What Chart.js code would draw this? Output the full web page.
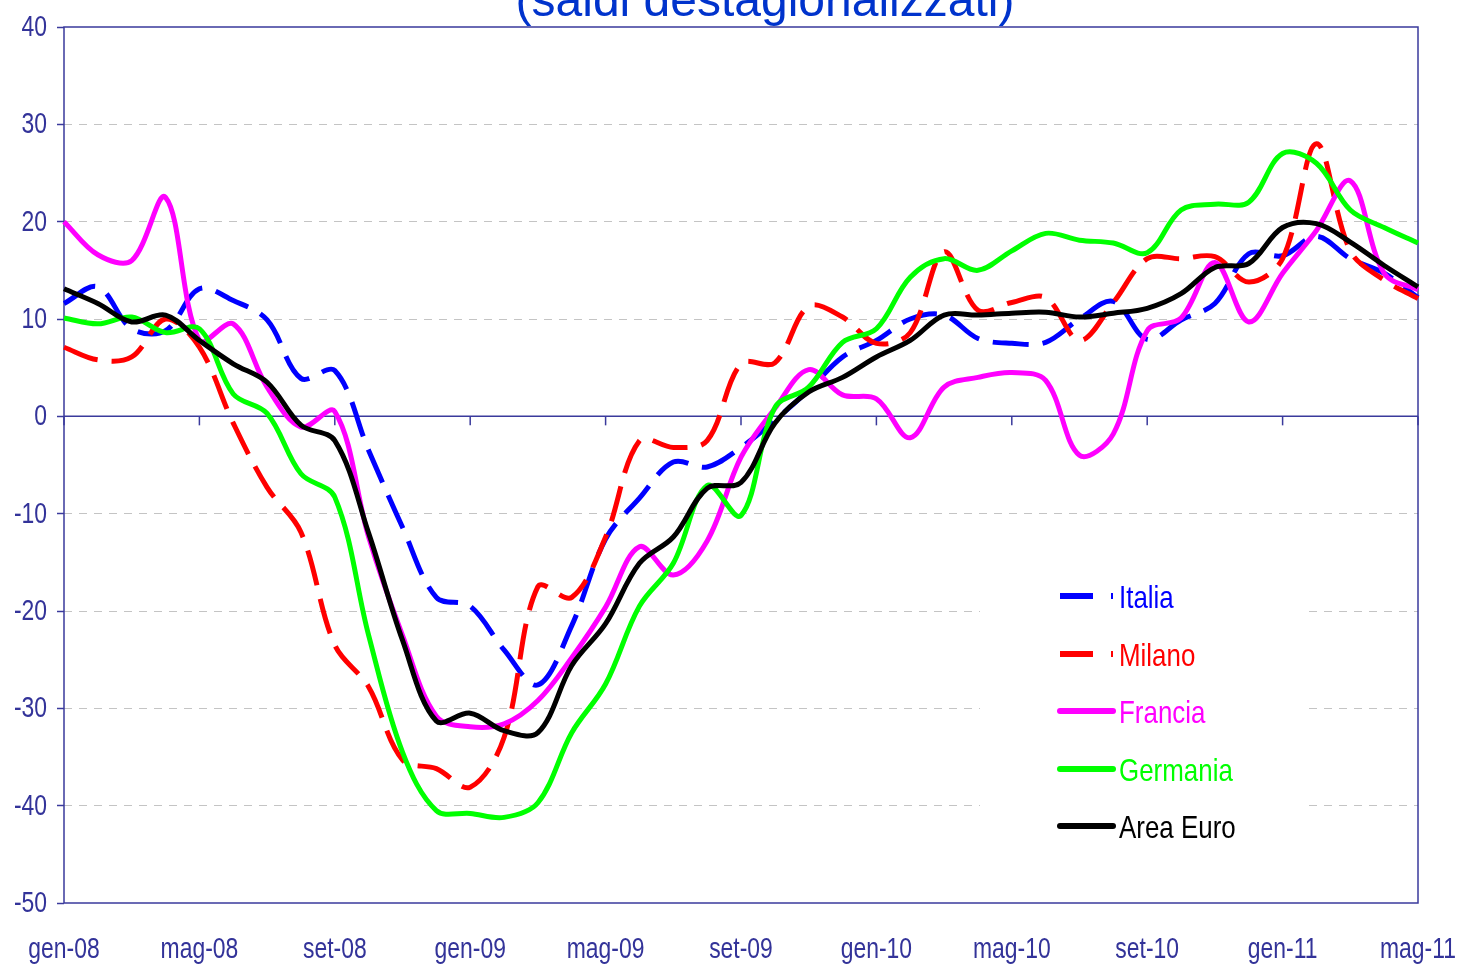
<!DOCTYPE html>
<html>
<head>
<meta charset="utf-8">
<script src="https://cdn.jsdelivr.net/npm/chart.js@4.4.1/dist/chart.umd.min.js"></script>
<style>
  html, body { margin: 0; padding: 0; background: #ffffff; overflow: hidden; }
  #c { display: block; }
</style>
</head>
<body>
<canvas id="c" width="1462" height="965"></canvas>
<script>
const categories = [
  'gen-08','feb-08','mar-08','apr-08','mag-08','giu-08','lug-08','ago-08','set-08','ott-08','nov-08','dic-08',
  'gen-09','feb-09','mar-09','apr-09','mag-09','giu-09','lug-09','ago-09','set-09','ott-09','nov-09','dic-09',
  'gen-10','feb-10','mar-10','apr-10','mag-10','giu-10','lug-10','ago-10','set-10','ott-10','nov-10','dic-10',
  'gen-11','feb-11','mar-11','apr-11','mag-11'
];
const tickLabels = ['gen-08','mag-08','set-08','gen-09','mag-09','set-09','gen-10','mag-10','set-10','gen-11','mag-11'];
const seriesNames = ['Italia', 'Milano', 'Francia', 'Germania', 'Area Euro'];

const italia = [11.6, 13.3, 9.0, 8.8, 13.1, 11.9, 9.9, 3.9, 4.7, -3.5, -11.4, -18.6, -19.5, -24.0, -27.6, -21.5, -12.6, -8.4, -4.7, -5.2, -3.2, -0.4, 2.7, 6.1, 7.8, 10.0, 10.4, 8.0, 7.5, 7.6, 10.0, 11.8, 7.9, 9.9, 11.6, 16.7, 16.5, 18.5, 16.2, 14.7, 12.2];
const milano = [7.1, 5.8, 6.1, 10.0, 7.1, -0.7, -7.3, -11.9, -23.5, -27.8, -35.3, -36.2, -38.1, -33.0, -17.5, -18.6, -12.4, -2.5, -3.2, -2.5, 5.4, 5.5, 11.3, 10.2, 7.5, 8.6, 16.9, 10.9, 11.7, 12.2, 7.8, 11.7, 16.2, 16.2, 16.4, 13.8, 16.2, 28.0, 17.0, 14.0, 12.1];
const francia = [20.0, 16.6, 16.0, 22.5, 7.8, 9.5, 3.0, -1.1, 0.5, -12.4, -22.5, -30.8, -31.9, -31.6, -29.2, -24.8, -19.6, -13.4, -16.3, -12.8, -4.2, 0.8, 4.8, 2.2, 1.8, -2.2, 3.0, 4.0, 4.5, 3.7, -4.0, -1.8, 8.8, 10.1, 15.8, 9.7, 14.7, 19.1, 24.2, 14.7, 13.0];
const germania = [10.1, 9.5, 10.2, 8.6, 9.0, 2.3, 0.3, -5.9, -8.3, -22.5, -34.5, -40.5, -40.8, -41.2, -39.7, -32.5, -27.5, -19.5, -15.1, -7.1, -10.2, 0.9, 3.0, 7.6, 9.0, 14.3, 16.2, 15.0, 17.0, 18.8, 18.1, 17.8, 16.8, 21.2, 21.8, 22.0, 27.0, 26.0, 21.2, 19.4, 17.8];
const areaEuro = [13.1, 11.6, 9.7, 10.4, 7.8, 5.4, 3.5, -0.9, -2.5, -12.0, -23.0, -31.3, -30.5, -32.3, -32.5, -25.6, -21.3, -15.1, -12.4, -7.4, -6.8, -0.7, 2.5, 4.0, 6.1, 7.8, 10.4, 10.4, 10.6, 10.7, 10.2, 10.6, 11.1, 12.6, 15.3, 15.7, 19.4, 19.8, 17.9, 15.5, 13.3];

const NAVY = '#3a3a9c';
const TICK_TEXT = '#333399';
const FONT = '"Liberation Sans", Arial, sans-serif';

function ds(label, data, color, dashed, order) {
  return {
    label, data,
    borderColor: color,
    backgroundColor: color,
    borderWidth: 5,
    borderDash: dashed ? [36, 14] : [],
    borderCapStyle: 'butt',
    borderJoinStyle: 'round',
    pointRadius: 0,
    pointHoverRadius: 0,
    tension: 0.35,
    fill: false,
    order,
    _dashed: dashed
  };
}

// condensed text (emulates a narrow face)
function narrowText(ctx, text, x, y, size, sx, color, align, baseline) {
  ctx.save();
  ctx.translate(x, y);
  ctx.scale(sx, 1);
  ctx.font = size + 'px ' + FONT;
  ctx.fillStyle = color;
  ctx.textAlign = align;
  ctx.textBaseline = baseline;
  ctx.fillText(text, 0, 0);
  ctx.restore();
}

const framePlugin = {
  id: 'frame',
  beforeDatasetsDraw(chart) {
    const { ctx, chartArea: a, scales: { x, y } } = chart;
    ctx.save();
    const y0 = y.getPixelForValue(0);
    ctx.strokeStyle = NAVY;
    ctx.lineWidth = 1.5;
    ctx.beginPath();
    ctx.moveTo(a.left, y0);
    ctx.lineTo(a.right, y0);
    ctx.stroke();
    categories.forEach((c, i) => {
      if (i % 4 === 0) {
        const px = x.getPixelForValue(i);
        ctx.beginPath();
        ctx.moveTo(px, y0);
        ctx.lineTo(px, y0 + 9);
        ctx.stroke();
      }
    });
    ctx.strokeRect(a.left, a.top, a.right - a.left, a.bottom - a.top);
    ctx.restore();
  },
  afterDraw(chart) {
    const { ctx, chartArea: a, scales: { x, y } } = chart;
    // axis tick labels
    y.ticks.forEach(t => {
      narrowText(ctx, String(t.value), 47, y.getPixelForValue(t.value) + 1, 29, 0.79, TICK_TEXT, 'right', 'middle');
    });
    categories.forEach((c, i) => {
      if (tickLabels.includes(c)) {
        narrowText(ctx, c, x.getPixelForValue(i), 958, 29, 0.79, TICK_TEXT, 'center', 'alphabetic');
      }
    });
    ctx.save();
    // legend
    ctx.fillStyle = '#ffffff';
    ctx.fillRect(980, 566, 328, 292);
    const rows = [596, 654, 711, 769, 826];
    chart.data.datasets.forEach((d, i) => {
      const yy = rows[i];
      ctx.strokeStyle = d.borderColor;
      ctx.lineWidth = 6;
      ctx.lineCap = d._dashed ? 'butt' : 'round';
      ctx.setLineDash(d._dashed ? [33, 18] : []);
      ctx.beginPath();
      ctx.moveTo(1060, yy);
      ctx.lineTo(1113, yy);
      ctx.stroke();
      ctx.setLineDash([]);
      narrowText(ctx, d.label, 1119, yy + 12, 32, 0.81, d.borderColor, 'left', 'alphabetic');
    });
    // title (cut at top of page)
    ctx.fillStyle = '#0033cc';
    ctx.font = '48px ' + FONT;
    ctx.textAlign = 'center';
    ctx.textBaseline = 'alphabetic';
    ctx.fillText('(saldi destagionalizzati)', (a.left + a.right) / 2 + 24, 16);
    ctx.restore();
  }
};

new Chart(document.getElementById('c'), {
  type: 'line',
  data: {
    labels: categories,
    datasets: [
      ds(seriesNames[0], italia, '#0000ff', true, 4),
      ds(seriesNames[1], milano, '#ff0000', true, 3),
      ds(seriesNames[2], francia, '#ff00ff', false, 2),
      ds(seriesNames[3], germania, '#00ff00', false, 1),
      ds(seriesNames[4], areaEuro, '#000000', false, 0)
    ]
  },
  options: {
    responsive: false,
    devicePixelRatio: 1,
    animation: false,
    layout: { padding: { left: 0, right: 44, top: 27, bottom: 0 } },
    plugins: { legend: { display: false }, tooltip: { enabled: false }, title: { display: false } },
    scales: {
      x: {
        type: 'category',
        offset: false,
        grid: { display: false, drawTicks: false },
        border: { display: false },
        afterFit(s) { s.height = 62; s.paddingLeft = 0; s.paddingRight = 0; },
        ticks: {
          autoSkip: false,
          maxRotation: 0,
          minRotation: 0,
          color: 'rgba(0,0,0,0)',
          font: { family: FONT, size: 10 },
          callback() { return ''; }
        }
      },
      y: {
        min: -50,
        max: 40,
        afterFit(s) { s.width = 64; s.paddingTop = 0; s.paddingBottom = 0; },
        border: { display: false, dash: [8, 7] },
        grid: {
          color(ctx) {
            const v = ctx.tick ? ctx.tick.value : null;
            return (v === 0 || v === 40 || v === -50) ? 'rgba(0,0,0,0)' : '#c4c4c4';
          },
          lineWidth: 1,
          tickColor: NAVY,
          tickLength: 7,
          tickWidth: 1.5,
          tickBorderDash: [],
          drawTicks: true
        },
        ticks: {
          stepSize: 10,
          padding: 10,
          color: 'rgba(0,0,0,0)',
          font: { family: FONT, size: 10 }
        }
      }
    }
  },
  plugins: [framePlugin]
});
</script>
</body>
</html>
